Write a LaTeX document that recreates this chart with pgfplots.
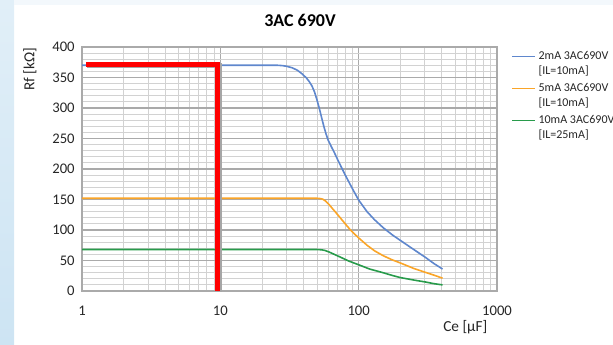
\documentclass[border=0pt]{standalone}
\usepackage{fontspec}
\setmainfont{Carlito}
\usepackage{pgfplots}
\pgfplotsset{compat=1.18}
\definecolor{cblue}{RGB}{95,135,205}
\definecolor{corange}{RGB}{250,165,40}
\definecolor{cgreen}{RGB}{40,155,75}
\definecolor{majgrid}{RGB}{170,170,170}
\definecolor{mingrid}{RGB}{210,210,210}
\definecolor{bgblue}{RGB}{205,228,243}
\begin{document}
\begin{tikzpicture}
\path[use as bounding box] (0pt,0pt) rectangle (459.75pt,258.75pt);
\shade[top color=bgblue!60, bottom color=bgblue] (0pt,0pt) rectangle (10.5pt,258.75pt);
\fill[bgblue!25] (10.5pt,255pt) rectangle (459.75pt,258.75pt);
\begin{axis}[
  at={(61.5pt,40.5pt)}, anchor=south west,
  scale only axis, width=311.25pt, height=183pt,
  xmode=log, xmin=1, xmax=1000, ymin=0, ymax=400,
  xtick={1,10,100,1000}, xticklabels={1,10,100,1000},
  ytick={0,50,...,400}, minor y tick num=4,
  grid=both,
  major grid style={majgrid, line width=0.9pt},
  minor grid style={mingrid, line width=0.7pt},
  axis line style={draw=majgrid, line width=0.9pt},
  major tick length=0pt, minor tick length=0pt,
  tick style={draw=none},
  /pgf/number format/assume math mode=true,
  tick label style={font=\fontsize{11}{13}\selectfont, text=black!85},
  xticklabel style={yshift=-8pt},
  yticklabel style={xshift=-2pt},
  legend style={at={(1.025,1.005)}, anchor=north west, draw=none, fill=none,
    font=\fontsize{9}{11}\selectfont, row sep=12.5pt, text=black!85},
  legend cell align=left,
  legend image code/.code={\draw[#1, line width=1.2pt] (0pt,0pt) -- (17pt,0pt);},
  clip=false,
]
\addplot[cblue, line width=1.2pt] coordinates {
(1,370) (26,370) (28,369.5) (30,368.5) (33,366) (36,362) (39,356) (42,349) (44,343) (46,336) (48,326) (50,313) (52,299) (54,284) (56,270) (58,258) (60,248) (63,238) (67,226) (72,211) (80,190) (90,168) (100,149) (115,130) (130,117) (150,104) (175,92) (200,83) (250,68) (300,56) (350,45) (404,36)};
\addlegendentry{\vtop{\hbox{2mA 3AC690V}\hbox{[IL=10mA]}}}
\addplot[corange, line width=1.2pt] coordinates {
(1,152) (50,152) (53,151.5) (55,150.5) (58,147) (62,140) (67,131) (73,121) (80,110) (88,99) (100,87) (115,75) (130,66) (150,58) (175,51) (200,46) (250,37) (300,31) (350,26) (404,21)};
\addlegendentry{\vtop{\hbox{5mA 3AC690V}\hbox{[IL=10mA]}}}
\addplot[cgreen, line width=1.2pt] coordinates {
(1,68) (50,68) (54,67.5) (57,66.5) (61,64) (66,60.5) (73,56) (85,49) (100,43) (120,36) (150,30) (175,25.5) (200,22) (250,18) (300,15) (350,12) (404,10)};
\addlegendentry{\vtop{\hbox{10mA 3AC690V}\hbox{[IL=25mA]}}}
\addplot[black!35, line width=3.75pt, xshift=1pt, yshift=-1pt, forget plot] coordinates {(1.07,372) (9.6,372) (9.6,0)};
\addplot[red, line width=3.75pt, forget plot] coordinates {(1.07,372) (9.6,372) (9.6,0)};
\end{axis}
\node[font=\bfseries\fontsize{13.5}{16}\selectfont] at (225pt,243.75pt) {3AC 690V};
\node[rotate=90, font=\fontsize{11.5}{14}\selectfont, text=black!85] at (22.5pt,207pt) {Rf [kΩ]};
\node[font=\fontsize{11.5}{14}\selectfont, text=black!85] at (349pt,13.5pt) {Ce [µF]};
\end{tikzpicture}
\end{document}
